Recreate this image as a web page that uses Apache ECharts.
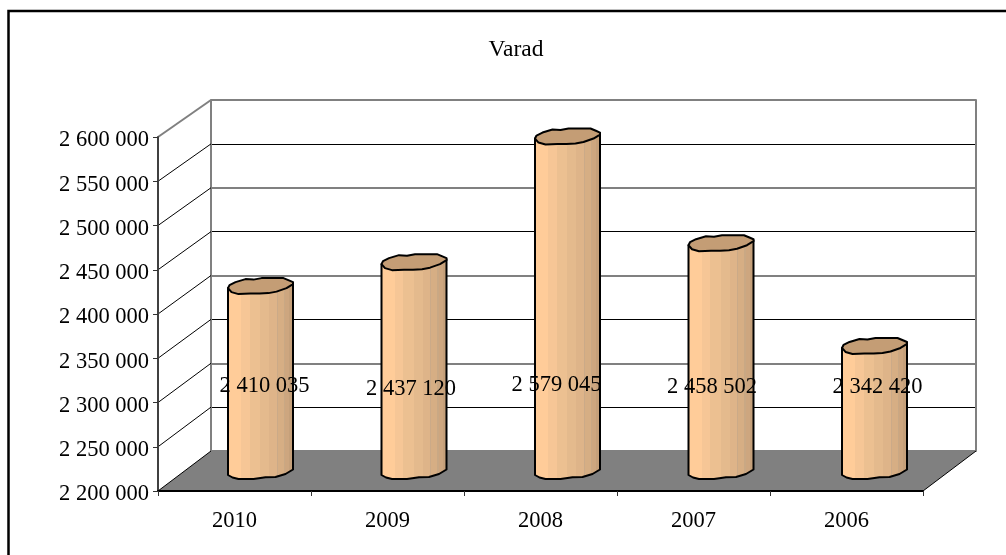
<!DOCTYPE html>
<html>
<head>
<meta charset="utf-8">
<style>html,body{margin:0;padding:0;background:#fff;overflow:hidden}#c{width:1006px;height:555px}</style>
<script src="https://cdn.jsdelivr.net/npm/echarts@6/dist/echarts.min.js"></script>
</head>
<body>
<div id="c"></div>
<script>
const titleText = 'Varad';
const categories = ['2010', '2009', '2008', '2007', '2006'];
const values = [2410035, 2437120, 2579045, 2458502, 2342420];
const valueLabels = ['2 410 035', '2 437 120', '2 579 045', '2 458 502', '2 342 420'];
const tickValues = [2200000, 2250000, 2300000, 2350000, 2400000, 2450000, 2500000, 2550000, 2600000];
const tickLabels = ['2 200 000', '2 250 000', '2 300 000', '2 350 000', '2 400 000', '2 450 000', '2 500 000', '2 550 000', '2 600 000'];

// layout (pixels)
const FONT = '"Liberation Serif","Times New Roman",serif';
const FS = 22.5;
const front = {left: 158, top: 137, width: 765, bottom: 491};
const back = {left: 211, top: 100, width: 765, bottom: 451};
const depthX = back.left - front.left;
const backY = y => back.bottom + (y - front.bottom) * (back.bottom - back.top) / (front.bottom - front.top);

// cylinder shape, relative to the centre of an end cap
const capOutline = [[-32.5,2],[-31,-1],[-25,-4],[-15,-7],[-7,-6.5],[1,-8],[23,-8],[29,-5.5],[32.5,-4],[32.5,-2],[26,2],[16,5.5],[8,7],[-1,7.5],[-10,7.5],[-22,8],[-29,6]];
const baseOutline = [[-32.5,3],[-28,5.5],[-22,7],[-7,7],[0,6],[5,5.3],[15,5],[25,2],[32.5,-2.5]];
const bodyBands = [[.21,'#FFCC99'],[.34,'#F6C696'],[.5,'#ECC091'],[.63,'#E4BA8D'],[.74,'#DEB489'],[.76,'#CBAA88'],[.85,'#D6AE84'],[.87,'#C9A884'],[.93,'#CDA67F'],[.98,'#C5A07A'],[1,'#BC9872']];
const capColor = '#C49D75';
const labelNudge = [[4,-1],[-3,2],[-11,-2],[-9,0],[3,0]];

function bandGradient() {
  const stops = [];
  let from = 0;
  bodyBands.forEach(b => {
    stops.push({offset: from, color: b[1]});
    stops.push({offset: b[0], color: b[1]});
    from = b[0];
  });
  return new echarts.graphic.LinearGradient(0, 0, 1, 0, stops);
}

function renderFloor(params, api) {
  const cs = params.coordSys;
  const yb = api.coord([0, tickValues[0]])[1];
  const x0 = cs.x, x1 = cs.x + cs.width;
  return {type: 'group', children: [
    {type: 'polygon', shape: {points: [[x0, yb], [x1, yb], [x1 + depthX, backY(yb)], [x0 + depthX, backY(yb)]]},
     style: {fill: '#808080'}},
    {type: 'line', shape: {x1: x1, y1: yb, x2: x1 + depthX, y2: backY(yb)},
     style: {stroke: '#000', lineWidth: 1}}
  ]};
}

function renderDiagonal(params, api) {
  const cs = params.coordSys;
  const v = api.value(0);
  const y = api.coord([0, v])[1];
  const isTop = v === tickValues[tickValues.length - 1];
  return {type: 'line', shape: {x1: cs.x, y1: y, x2: cs.x + depthX, y2: backY(y)},
    style: {stroke: isTop ? '#808080' : '#000', lineWidth: isTop ? 2 : 1}};
}

function renderCylinder(params, api) {
  const i = api.value(0);
  const p = api.coord([i, api.value(1)]);
  const b = api.coord([i, tickValues[0]]);
  const dx = 26 + 0.5 * i, dy = -19;
  const cx = p[0] + dx, ty = p[1] + dy, by = b[1] + dy;
  const cap = capOutline.map(q => [cx + q[0], ty + q[1]]);
  const body = [[cx - 32.5, ty + 2]]
    .concat(baseOutline.map(q => [cx + q[0], by + q[1]]))
    .concat([[cx + 32.5, ty - 3]]);
  const lb = api.coord([i, tickValues[2]]);
  return {type: 'group', children: [
    {type: 'polygon', shape: {points: body}, z2: 1,
      style: {fill: bandGradient(), stroke: '#000', lineWidth: 2, lineJoin: 'round'}},
    {type: 'polygon', shape: {points: cap}, z2: 2,
      style: {fill: capColor, stroke: '#000', lineWidth: 2, lineJoin: 'round'}},
    {type: 'text', z2: 3, style: {
      x: cx + labelNudge[i][0], y: lb[1] - 15 + labelNudge[i][1],
      text: valueLabels[i], fill: '#000', font: FS + 'px ' + FONT,
      align: 'center', verticalAlign: 'middle'}}
  ]};
}

const yBase = {type: 'value', min: tickValues[0], max: tickValues[tickValues.length - 1], interval: 50000};

const option = {
  animation: false,
  backgroundColor: '#fff',
  title: {text: titleText, left: 511, top: 33, textAlign: 'center',
    textStyle: {fontFamily: FONT, fontSize: 23.5, fontWeight: 'normal', color: '#000'}},
  graphic: [{type: 'rect', shape: {x: 8.5, y: 11, width: 1100, height: 700},
    style: {fill: 'none', stroke: '#000', lineWidth: 2.5}, z: 0}],
  grid: [
    {left: front.left, top: front.top, width: front.width, height: front.bottom - front.top},
    {left: back.left, top: back.top, width: back.width, height: back.bottom - back.top}
  ],
  xAxis: [
    {type: 'category', gridIndex: 0, data: categories, z: 5,
      axisLine: {lineStyle: {color: '#000', width: 2}},
      axisTick: {show: true, length: 5, lineStyle: {color: '#333', width: 1}},
      axisLabel: {color: '#000', fontFamily: FONT, fontSize: FS, margin: 19}},
    {type: 'category', gridIndex: 1, data: categories, show: false}
  ],
  yAxis: [
    Object.assign({}, yBase, {gridIndex: 0, z: 5,
      splitLine: {show: false},
      axisLine: {show: true, lineStyle: {color: '#404040', width: 2}},
      axisTick: {show: true, length: 5, lineStyle: {color: '#333', width: 1}},
      axisLabel: {margin: 9,
        formatter: v => '{t|' + tickLabels[tickValues.indexOf(v)] + '}',
        rich: {t: {color: '#000', fontFamily: FONT, fontSize: FS, padding: [7, 0, 0, 0]}}}}),
    Object.assign({}, yBase, {gridIndex: 1,
      splitLine: {show: true, lineStyle: {color: ['rgba(0,0,0,0)', '#000'], width: 1}},
      axisLine: {show: true, lineStyle: {color: '#808080', width: 2}},
      axisTick: {show: false}, axisLabel: {show: false}}),
    Object.assign({}, yBase, {gridIndex: 1, position: 'right',
      splitLine: {show: true, lineStyle: {color: ['#808080', 'rgba(0,0,0,0)'], width: 2}},
      axisLine: {show: true, onZero: false, lineStyle: {color: '#808080', width: 2}},
      axisTick: {show: false}, axisLabel: {show: false}})
  ],
  series: [
    {type: 'custom', name: 'floor', xAxisIndex: 0, yAxisIndex: 0, z: 1, silent: true,
      renderItem: renderFloor, data: [[0]]},
    {type: 'custom', name: 'depth', xAxisIndex: 0, yAxisIndex: 0, z: 1, silent: true,
      renderItem: renderDiagonal, data: tickValues.map(v => [v]), encode: {y: 0}},
    {type: 'custom', name: 'Varad', xAxisIndex: 0, yAxisIndex: 0, z: 6, clip: false,
      renderItem: renderCylinder,
      data: values.map((v, i) => [i, v]), encode: {x: 0, y: 1}}
  ]
};
const chart = echarts.init(document.getElementById('c'), null, {renderer: 'canvas'});
chart.setOption(option);
</script>
</body>
</html>
